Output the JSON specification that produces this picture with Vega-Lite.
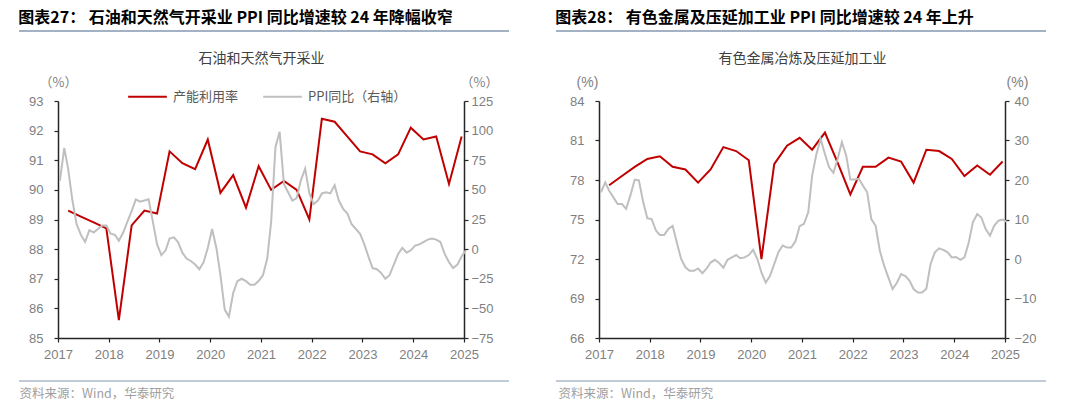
{
  "$schema": "https://vega.github.io/schema/vega-lite/v6.json",
  "background": "white",
  "padding": {"left": 18, "top": 10, "right": 0, "bottom": 0},
  "spacing": 45,
  "config": {
    "view": {"stroke": null},
    "font": "Liberation Sans",
    "axis": {
      "grid": false,
      "labelFont": "Liberation Sans",
      "labelFontSize": 13,
      "labelColor": "#7f7f7f",
      "labelFlush": false,
      "domainColor": "#262626",
      "domainWidth": 1.5,
      "tickColor": "#262626",
      "tickWidth": 1.2,
      "tickSize": 4,
      "titleFontWeight": "normal",
      "titleColor": "#7f7f7f"
    },
    "legend": {
      "orient": "none",
      "legendY": -25,
      "direction": "horizontal",
      "title": null,
      "symbolType": "stroke",
      "symbolSize": 1500,
      "symbolStrokeWidth": 2,
      "labelFont": "Noto Sans CJK SC",
      "labelFontSize": 13,
      "labelColor": "#595959",
      "labelOffset": 5,
      "columnPadding": 20,
      "padding": 0
    }
  },
  "datasets": {
    "cu_oil": [
      {"d": "2017-03-15", "v": 89.3}, {"d": "2017-06-15", "v": 89.1}, {"d": "2017-09-15", "v": 88.9}, {"d": "2017-12-15", "v": 88.7},
      {"d": "2018-03-15", "v": 85.6}, {"d": "2018-06-15", "v": 88.8}, {"d": "2018-09-15", "v": 89.3}, {"d": "2018-12-15", "v": 89.2},
      {"d": "2019-03-15", "v": 91.3}, {"d": "2019-06-15", "v": 90.9}, {"d": "2019-09-15", "v": 90.7}, {"d": "2019-12-15", "v": 91.7},
      {"d": "2020-03-15", "v": 89.9}, {"d": "2020-06-15", "v": 90.5}, {"d": "2020-09-15", "v": 89.4}, {"d": "2020-12-15", "v": 90.8},
      {"d": "2021-03-15", "v": 90.0}, {"d": "2021-06-15", "v": 90.3}, {"d": "2021-09-15", "v": 90.0}, {"d": "2021-12-15", "v": 89.0},
      {"d": "2022-03-15", "v": 92.4}, {"d": "2022-06-15", "v": 92.3}, {"d": "2022-09-15", "v": 91.8}, {"d": "2022-12-15", "v": 91.3},
      {"d": "2023-03-15", "v": 91.2}, {"d": "2023-06-15", "v": 90.9}, {"d": "2023-09-15", "v": 91.2}, {"d": "2023-12-15", "v": 92.1},
      {"d": "2024-03-15", "v": 91.7}, {"d": "2024-06-15", "v": 91.8}, {"d": "2024-09-15", "v": 90.2}, {"d": "2024-12-15", "v": 91.8}
    ],
    "ppi_oil": [
      {"d": "2017-01-15", "v": 57.9}, {"d": "2017-02-15", "v": 85.5}, {"d": "2017-03-15", "v": 67.7}, {"d": "2017-04-15", "v": 41}, {"d": "2017-05-15", "v": 21}, {"d": "2017-06-15", "v": 12}, {"d": "2017-07-15", "v": 6}, {"d": "2017-08-15", "v": 16}, {"d": "2017-09-15", "v": 14}, {"d": "2017-10-15", "v": 17}, {"d": "2017-11-15", "v": 20}, {"d": "2017-12-15", "v": 20},
      {"d": "2018-01-15", "v": 13}, {"d": "2018-02-15", "v": 12}, {"d": "2018-03-15", "v": 7}, {"d": "2018-04-15", "v": 14}, {"d": "2018-05-15", "v": 23}, {"d": "2018-06-15", "v": 32}, {"d": "2018-07-15", "v": 42}, {"d": "2018-08-15", "v": 40}, {"d": "2018-09-15", "v": 41}, {"d": "2018-10-15", "v": 42}, {"d": "2018-11-15", "v": 23}, {"d": "2018-12-15", "v": 4},
      {"d": "2019-01-15", "v": -5}, {"d": "2019-02-15", "v": -1}, {"d": "2019-03-15", "v": 9}, {"d": "2019-04-15", "v": 10}, {"d": "2019-05-15", "v": 6}, {"d": "2019-06-15", "v": -3}, {"d": "2019-07-15", "v": -8}, {"d": "2019-08-15", "v": -10}, {"d": "2019-09-15", "v": -13}, {"d": "2019-10-15", "v": -17}, {"d": "2019-11-15", "v": -11}, {"d": "2019-12-15", "v": 1},
      {"d": "2020-01-15", "v": 17}, {"d": "2020-02-15", "v": 1}, {"d": "2020-03-15", "v": -22}, {"d": "2020-04-15", "v": -51}, {"d": "2020-05-15", "v": -57}, {"d": "2020-06-15", "v": -37}, {"d": "2020-07-15", "v": -27}, {"d": "2020-08-15", "v": -25}, {"d": "2020-09-15", "v": -27}, {"d": "2020-10-15", "v": -30}, {"d": "2020-11-15", "v": -30}, {"d": "2020-12-15", "v": -27},
      {"d": "2021-01-15", "v": -22}, {"d": "2021-02-15", "v": -8}, {"d": "2021-03-15", "v": 23}, {"d": "2021-04-15", "v": 86}, {"d": "2021-05-15", "v": 99}, {"d": "2021-06-15", "v": 55}, {"d": "2021-07-15", "v": 48}, {"d": "2021-08-15", "v": 41}, {"d": "2021-09-15", "v": 43}, {"d": "2021-10-15", "v": 58}, {"d": "2021-11-15", "v": 68}, {"d": "2021-12-15", "v": 47},
      {"d": "2022-01-15", "v": 38}, {"d": "2022-02-15", "v": 41}, {"d": "2022-03-15", "v": 47}, {"d": "2022-04-15", "v": 48}, {"d": "2022-05-15", "v": 47}, {"d": "2022-06-15", "v": 54}, {"d": "2022-07-15", "v": 41}, {"d": "2022-08-15", "v": 34}, {"d": "2022-09-15", "v": 30}, {"d": "2022-10-15", "v": 21}, {"d": "2022-11-15", "v": 17}, {"d": "2022-12-15", "v": 13},
      {"d": "2023-01-15", "v": 4}, {"d": "2023-02-15", "v": -7}, {"d": "2023-03-15", "v": -16}, {"d": "2023-04-15", "v": -17}, {"d": "2023-05-15", "v": -20}, {"d": "2023-06-15", "v": -25}, {"d": "2023-07-15", "v": -22}, {"d": "2023-08-15", "v": -13}, {"d": "2023-09-15", "v": -4}, {"d": "2023-10-15", "v": 1}, {"d": "2023-11-15", "v": -3}, {"d": "2023-12-15", "v": -1},
      {"d": "2024-01-15", "v": 3}, {"d": "2024-02-15", "v": 4}, {"d": "2024-03-15", "v": 6}, {"d": "2024-04-15", "v": 8}, {"d": "2024-05-15", "v": 9}, {"d": "2024-06-15", "v": 8}, {"d": "2024-07-15", "v": 6}, {"d": "2024-08-15", "v": -4}, {"d": "2024-09-15", "v": -11}, {"d": "2024-10-15", "v": -16}, {"d": "2024-11-15", "v": -13}, {"d": "2024-12-15", "v": -6},
      {"d": "2025-01-15", "v": -1}
    ],
    "cu_nf": [
      {"d": "2017-03-15", "v": 77.6}, {"d": "2017-06-15", "v": 78.3}, {"d": "2017-09-15", "v": 79.0}, {"d": "2017-12-15", "v": 79.6},
      {"d": "2018-03-15", "v": 79.8}, {"d": "2018-06-15", "v": 79.0}, {"d": "2018-09-15", "v": 78.8}, {"d": "2018-12-15", "v": 77.8},
      {"d": "2019-03-15", "v": 78.8}, {"d": "2019-06-15", "v": 80.5}, {"d": "2019-09-15", "v": 80.2}, {"d": "2019-12-15", "v": 79.5},
      {"d": "2020-03-15", "v": 72.0}, {"d": "2020-06-15", "v": 79.2}, {"d": "2020-09-15", "v": 80.6}, {"d": "2020-12-15", "v": 81.2},
      {"d": "2021-03-15", "v": 80.3}, {"d": "2021-06-15", "v": 81.6}, {"d": "2021-09-15", "v": 79.3}, {"d": "2021-12-15", "v": 76.9},
      {"d": "2022-03-15", "v": 79.0}, {"d": "2022-06-15", "v": 79.0}, {"d": "2022-09-15", "v": 79.7}, {"d": "2022-12-15", "v": 79.4},
      {"d": "2023-03-15", "v": 77.8}, {"d": "2023-06-15", "v": 80.3}, {"d": "2023-09-15", "v": 80.2}, {"d": "2023-12-15", "v": 79.6},
      {"d": "2024-03-15", "v": 78.3}, {"d": "2024-06-15", "v": 79.1}, {"d": "2024-09-15", "v": 78.4}, {"d": "2024-12-15", "v": 79.4}
    ],
    "ppi_nf": [
      {"d": "2017-01-15", "v": 16.9}, {"d": "2017-02-15", "v": 19.4}, {"d": "2017-03-15", "v": 17.3}, {"d": "2017-04-15", "v": 15.6}, {"d": "2017-05-15", "v": 13.9}, {"d": "2017-06-15", "v": 13.9}, {"d": "2017-07-15", "v": 12.7}, {"d": "2017-08-15", "v": 16.1}, {"d": "2017-09-15", "v": 20.1}, {"d": "2017-10-15", "v": 19.9}, {"d": "2017-11-15", "v": 14.4}, {"d": "2017-12-15", "v": 10.3},
      {"d": "2018-01-15", "v": 10.1}, {"d": "2018-02-15", "v": 7.2}, {"d": "2018-03-15", "v": 6.1}, {"d": "2018-04-15", "v": 6.1}, {"d": "2018-05-15", "v": 7.6}, {"d": "2018-06-15", "v": 8.4}, {"d": "2018-07-15", "v": 4.2}, {"d": "2018-08-15", "v": 0}, {"d": "2018-09-15", "v": -2.1}, {"d": "2018-10-15", "v": -3}, {"d": "2018-11-15", "v": -3}, {"d": "2018-12-15", "v": -2.4},
      {"d": "2019-01-15", "v": -3.6}, {"d": "2019-02-15", "v": -2.4}, {"d": "2019-03-15", "v": -0.9}, {"d": "2019-04-15", "v": -0.2}, {"d": "2019-05-15", "v": -1}, {"d": "2019-06-15", "v": -2.2}, {"d": "2019-07-15", "v": -0.2}, {"d": "2019-08-15", "v": 0.4}, {"d": "2019-09-15", "v": 1}, {"d": "2019-10-15", "v": 0.2}, {"d": "2019-11-15", "v": 0.4}, {"d": "2019-12-15", "v": 1},
      {"d": "2020-01-15", "v": 2.3}, {"d": "2020-02-15", "v": 0}, {"d": "2020-03-15", "v": -3.4}, {"d": "2020-04-15", "v": -6}, {"d": "2020-05-15", "v": -4.3}, {"d": "2020-06-15", "v": -1.3}, {"d": "2020-07-15", "v": 1.7}, {"d": "2020-08-15", "v": 3.4}, {"d": "2020-09-15", "v": 2.9}, {"d": "2020-10-15", "v": 2.9}, {"d": "2020-11-15", "v": 4.5}, {"d": "2020-12-15", "v": 8.3},
      {"d": "2021-01-15", "v": 8.9}, {"d": "2021-02-15", "v": 11.8}, {"d": "2021-03-15", "v": 21.1}, {"d": "2021-04-15", "v": 26.6}, {"d": "2021-05-15", "v": 30.4}, {"d": "2021-06-15", "v": 26.6}, {"d": "2021-07-15", "v": 23.2}, {"d": "2021-08-15", "v": 21.8}, {"d": "2021-09-15", "v": 25.4}, {"d": "2021-10-15", "v": 29.6}, {"d": "2021-11-15", "v": 26.2}, {"d": "2021-12-15", "v": 20.1},
      {"d": "2022-01-15", "v": 20.1}, {"d": "2022-02-15", "v": 20.3}, {"d": "2022-03-15", "v": 18.6}, {"d": "2022-04-15", "v": 16.9}, {"d": "2022-05-15", "v": 10.1}, {"d": "2022-06-15", "v": 8.4}, {"d": "2022-07-15", "v": 2.1}, {"d": "2022-08-15", "v": -1.7}, {"d": "2022-09-15", "v": -4.7}, {"d": "2022-10-15", "v": -7.6}, {"d": "2022-11-15", "v": -6}, {"d": "2022-12-15", "v": -3.8},
      {"d": "2023-01-15", "v": -4.3}, {"d": "2023-02-15", "v": -5.5}, {"d": "2023-03-15", "v": -7.6}, {"d": "2023-04-15", "v": -8.5}, {"d": "2023-05-15", "v": -8.5}, {"d": "2023-06-15", "v": -7.5}, {"d": "2023-07-15", "v": -1.3}, {"d": "2023-08-15", "v": 1.7}, {"d": "2023-09-15", "v": 2.7}, {"d": "2023-10-15", "v": 2.3}, {"d": "2023-11-15", "v": 1.7}, {"d": "2023-12-15", "v": 0.4},
      {"d": "2024-01-15", "v": 0.5}, {"d": "2024-02-15", "v": -0.2}, {"d": "2024-03-15", "v": 0.4}, {"d": "2024-04-15", "v": 4.2}, {"d": "2024-05-15", "v": 9.3}, {"d": "2024-06-15", "v": 11.4}, {"d": "2024-07-15", "v": 10.5}, {"d": "2024-08-15", "v": 7.6}, {"d": "2024-09-15", "v": 5.9}, {"d": "2024-10-15", "v": 8.4}, {"d": "2024-11-15", "v": 9.7}, {"d": "2024-12-15", "v": 10.0},
      {"d": "2025-01-15", "v": 9.4}
    ],
    "one": [{"k": 1}]
  },
  "hconcat": [
    {
      "title": {"text": "图表27： 石油和天然气开采业 PPI 同比增速较 24 年降幅收窄", "anchor": "start", "offset": 4, "font": "Noto Sans CJK SC", "fontSize": 16, "fontWeight": "bold", "color": "#000000"},
      "vconcat": [
        {
          "width": 406,
          "height": 237,
          "resolve": {"scale": {"y": "independent"}, "axis": {"x": "independent"}},
          "layer": [
            {
              "data": {"name": "cu_oil"},
              "mark": {"type": "line", "strokeWidth": 2},
              "encoding": {
                "x": {"field": "d", "type": "temporal",
                  "scale": {"type": "utc", "domain": [{"year": 2017, "month": 1, "date": 1, "utc": true}, {"year": 2025, "month": 1, "date": 1, "utc": true}]},
                  "axis": {"orient": "bottom", "values": [{"year": 2017, "utc": true}, {"year": 2018, "utc": true}, {"year": 2019, "utc": true}, {"year": 2020, "utc": true}, {"year": 2021, "utc": true}, {"year": 2022, "utc": true}, {"year": 2023, "utc": true}, {"year": 2024, "utc": true}, {"year": 2025, "utc": true}],
                    "format": "%Y", "labelPadding": 6,
                    "title": "资料来源：Wind，华泰研究", "titleX": -39, "titleY": 55, "titleAlign": "left", "titleBaseline": "middle", "titleFont": "Noto Sans CJK SC", "titleFontSize": 12.5, "titleColor": "#a0a0a0"}},
                "y": {"field": "v", "type": "quantitative",
                  "scale": {"domain": [85, 93], "zero": false, "nice": false},
                  "axis": {"orient": "left", "values": [85, 86, 87, 88, 89, 90, 91, 92, 93], "labelPadding": 11,
                    "title": "（%）", "titleAngle": 0, "titleX": 0, "titleY": -19, "titleAlign": "center", "titleBaseline": "middle", "titleFont": "Noto Sans CJK SC", "titleFontSize": 13}},
                "color": {"datum": "产能利用率", "type": "nominal",
                  "scale": {"domain": ["产能利用率", "PPI同比（右轴）"], "range": ["#C00000", "#BFBFBF"]},
                  "legend": {"legendX": 69}}
              }
            },
            {
              "data": {"name": "ppi_oil"},
              "mark": {"type": "line", "strokeWidth": 2},
              "encoding": {
                "x": {"field": "d", "type": "temporal",
                  "axis": {"orient": "top", "labels": false, "ticks": false, "domain": false,
                    "title": "石油和天然气开采业", "titleX": 203, "titleY": -43, "titleAlign": "center", "titleBaseline": "middle", "titleFont": "Noto Sans CJK SC", "titleFontSize": 14, "titleColor": "#404040"}},
                "y": {"field": "v", "type": "quantitative",
                  "scale": {"domain": [-75, 125], "nice": false},
                  "axis": {"orient": "right", "values": [-75, -50, -25, 0, 25, 50, 75, 100, 125], "labelPadding": 3,
                    "title": "（%）", "titleAngle": 0, "titleX": 15, "titleY": -19, "titleAlign": "center", "titleBaseline": "middle", "titleFont": "Noto Sans CJK SC", "titleFontSize": 13}},
                "color": {"datum": "PPI同比（右轴）", "type": "nominal"}
              }
            },
            {
              "data": {"name": "one"},
              "mark": {"type": "rule", "color": "#8497B0", "strokeWidth": 1.5},
              "encoding": {"x": {"value": -39}, "x2": {"value": 451}, "y": {"value": -70}}
            },
            {
              "data": {"name": "one"},
              "mark": {"type": "rule", "color": "#8497B0", "strokeWidth": 1.2},
              "encoding": {"x": {"value": -39}, "x2": {"value": 451}, "y": {"value": 280}}
            }
          ]
        }
      ]
    },
    {
      "title": {"text": "图表28： 有色金属及压延加工业 PPI 同比增速较 24 年上升", "anchor": "start", "offset": 4, "font": "Noto Sans CJK SC", "fontSize": 16, "fontWeight": "bold", "color": "#000000"},
      "vconcat": [
        {
          "width": 406,
          "height": 237,
          "resolve": {"scale": {"y": "independent"}, "axis": {"x": "independent"}},
          "layer": [
            {
              "data": {"name": "cu_nf"},
              "mark": {"type": "line", "strokeWidth": 2},
              "encoding": {
                "x": {"field": "d", "type": "temporal",
                  "scale": {"type": "utc", "domain": [{"year": 2017, "month": 1, "date": 1, "utc": true}, {"year": 2025, "month": 1, "date": 1, "utc": true}]},
                  "axis": {"orient": "bottom", "values": [{"year": 2017, "utc": true}, {"year": 2018, "utc": true}, {"year": 2019, "utc": true}, {"year": 2020, "utc": true}, {"year": 2021, "utc": true}, {"year": 2022, "utc": true}, {"year": 2023, "utc": true}, {"year": 2024, "utc": true}, {"year": 2025, "utc": true}],
                    "format": "%Y", "labelPadding": 6,
                    "title": "资料来源：Wind，华泰研究", "titleX": -41, "titleY": 55, "titleAlign": "left", "titleBaseline": "middle", "titleFont": "Noto Sans CJK SC", "titleFontSize": 12.5, "titleColor": "#a0a0a0"}},
                "y": {"field": "v", "type": "quantitative",
                  "scale": {"domain": [66, 84], "zero": false, "nice": false},
                  "axis": {"orient": "left", "values": [66, 69, 72, 75, 78, 81, 84], "labelPadding": 11,
                    "title": "(%)", "titleAngle": 0, "titleX": -12, "titleY": -19, "titleAlign": "center", "titleBaseline": "middle", "titleFont": "Liberation Sans", "titleFontSize": 14}},
                "color": {"datum": "产能利用率", "type": "nominal",
                  "scale": {"domain": ["产能利用率", "PPI同比（右轴）"], "range": ["#C00000", "#BFBFBF"]},
                  "legend": {"legendX": 64}}
              }
            },
            {
              "data": {"name": "ppi_nf"},
              "mark": {"type": "line", "strokeWidth": 2},
              "encoding": {
                "x": {"field": "d", "type": "temporal",
                  "axis": {"orient": "top", "labels": false, "ticks": false, "domain": false,
                    "title": "有色金属冶炼及压延加工业", "titleX": 203, "titleY": -43, "titleAlign": "center", "titleBaseline": "middle", "titleFont": "Noto Sans CJK SC", "titleFontSize": 14, "titleColor": "#404040"}},
                "y": {"field": "v", "type": "quantitative",
                  "scale": {"domain": [-20, 40], "nice": false},
                  "axis": {"orient": "right", "values": [-20, -10, 0, 10, 20, 30, 40], "labelPadding": 5,
                    "title": "(%)", "titleAngle": 0, "titleX": 12, "titleY": -19, "titleAlign": "center", "titleBaseline": "middle", "titleFont": "Liberation Sans", "titleFontSize": 14}},
                "color": {"datum": "PPI同比（右轴）", "type": "nominal"}
              }
            },
            {
              "data": {"name": "one"},
              "mark": {"type": "rule", "color": "#8497B0", "strokeWidth": 1.5},
              "encoding": {"x": {"value": -43}, "x2": {"value": 447}, "y": {"value": -70}}
            },
            {
              "data": {"name": "one"},
              "mark": {"type": "rule", "color": "#8497B0", "strokeWidth": 1.2},
              "encoding": {"x": {"value": -43}, "x2": {"value": 447}, "y": {"value": 280}}
            }
          ]
        }
      ]
    }
  ]
}
